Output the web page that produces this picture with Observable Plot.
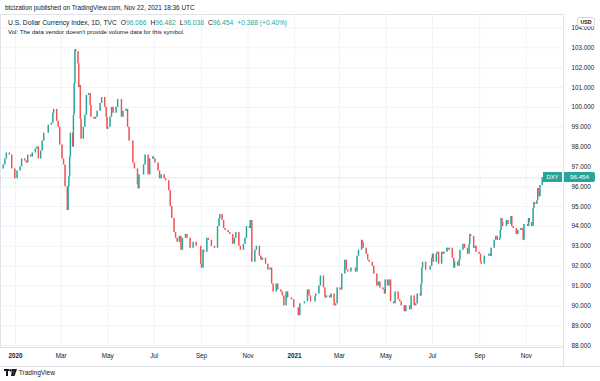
<!DOCTYPE html>
<html><head><meta charset="utf-8">
<script src="https://cdn.jsdelivr.net/npm/d3@7"></script>
<script src="https://cdn.jsdelivr.net/npm/@observablehq/plot@0.6"></script>
<style>
body{margin:0;width:600px;height:381px;background:#fff;position:relative;overflow:hidden;font-family:"Liberation Sans",Arial,sans-serif;color:#131722}
.abs{position:absolute;white-space:nowrap}
.g{color:#26a69a}
.k{margin-left:4px}
</style></head><body>
<script>
// ---- data (daily closes, every few sessions) ----
const dates2019 = ["2019-12-16","2019-12-18","2019-12-20","2019-12-24","2019-12-27","2019-12-31"];
const closes2019 = [97.1,97.4,97.7,97.6,96.9,96.4];

const dates2020 = [
"2020-01-03","2020-01-07","2020-01-09","2020-01-13","2020-01-15","2020-01-17","2020-01-21","2020-01-23","2020-01-27","2020-01-29","2020-01-31",
"2020-02-03","2020-02-05","2020-02-07","2020-02-11","2020-02-13","2020-02-17","2020-02-19","2020-02-20","2020-02-24","2020-02-26","2020-02-28",
"2020-03-02","2020-03-04","2020-03-06","2020-03-09","2020-03-10","2020-03-11","2020-03-12","2020-03-13","2020-03-16","2020-03-17","2020-03-18","2020-03-19","2020-03-20","2020-03-23","2020-03-24","2020-03-25","2020-03-26","2020-03-27","2020-03-30","2020-03-31",
"2020-04-01","2020-04-03","2020-04-06","2020-04-08","2020-04-09","2020-04-13","2020-04-15","2020-04-17","2020-04-21","2020-04-23","2020-04-27","2020-04-29","2020-04-30",
"2020-05-01","2020-05-04","2020-05-06","2020-05-08","2020-05-12","2020-05-14","2020-05-15","2020-05-19","2020-05-21","2020-05-25","2020-05-27","2020-05-29",
"2020-06-01","2020-06-03","2020-06-05","2020-06-09","2020-06-10","2020-06-11","2020-06-15","2020-06-17","2020-06-19","2020-06-23","2020-06-25","2020-06-29","2020-06-30",
"2020-07-02","2020-07-06","2020-07-08","2020-07-10","2020-07-14","2020-07-16","2020-07-20","2020-07-22","2020-07-24","2020-07-27","2020-07-29","2020-07-31",
"2020-08-03","2020-08-05","2020-08-07","2020-08-11","2020-08-13","2020-08-17","2020-08-19","2020-08-21","2020-08-25","2020-08-27","2020-08-31",
"2020-09-01","2020-09-03","2020-09-04","2020-09-08","2020-09-10","2020-09-14","2020-09-16","2020-09-18","2020-09-22","2020-09-24","2020-09-25","2020-09-28","2020-09-30",
"2020-10-02","2020-10-06","2020-10-08","2020-10-12","2020-10-14","2020-10-16","2020-10-20","2020-10-22","2020-10-26","2020-10-28","2020-10-30",
"2020-11-03","2020-11-04","2020-11-06","2020-11-10","2020-11-12","2020-11-16","2020-11-18","2020-11-20","2020-11-24","2020-11-27","2020-11-30",
"2020-12-02","2020-12-04","2020-12-08","2020-12-10","2020-12-14","2020-12-16","2020-12-18","2020-12-21","2020-12-23","2020-12-28","2020-12-31"];
const closes2020 = [
96.8,97.0,97.4,97.3,97.2,97.6,97.5,97.7,97.9,98.0,97.4,
97.8,98.3,98.7,98.7,99.1,99.2,99.7,99.9,99.3,99.0,98.1,
97.4,97.1,96.0,94.8,96.0,96.5,97.5,98.7,98.0,99.6,101.2,102.9,102.8,102.2,101.0,101.1,99.4,98.4,99.0,99.0,
99.6,100.6,100.7,100.1,99.5,99.4,99.5,99.8,100.2,100.5,100.0,99.5,98.9,
99.0,99.5,100.0,99.7,100.0,100.4,100.4,99.5,99.8,99.9,99.0,98.3,
98.3,97.2,96.9,96.1,95.9,96.6,96.6,97.1,97.6,96.6,97.4,97.5,97.4,
97.2,96.8,96.4,96.6,96.4,96.3,95.8,95.0,94.4,93.7,93.4,93.2,
93.5,92.8,93.4,93.6,93.4,92.9,92.9,93.2,93.0,93.0,92.1,
91.9,92.8,92.7,93.4,93.3,93.0,93.0,92.9,94.0,94.4,94.6,94.3,93.9,
93.8,93.7,93.6,93.1,93.4,93.7,93.0,92.8,93.1,93.4,94.0,
93.9,94.3,92.2,92.8,93.0,92.5,92.3,92.4,92.1,91.8,91.9,
91.1,90.7,91.1,90.8,90.7,90.5,90.0,90.7,90.4,90.3,89.9];

const dates2021 = [
"2021-01-04","2021-01-06","2021-01-08","2021-01-12","2021-01-14","2021-01-18","2021-01-20","2021-01-22","2021-01-26","2021-01-28","2021-01-29",
"2021-02-02","2021-02-04","2021-02-08","2021-02-10","2021-02-12","2021-02-16","2021-02-18","2021-02-22","2021-02-24","2021-02-26",
"2021-03-02","2021-03-04","2021-03-08","2021-03-10","2021-03-12","2021-03-16","2021-03-18","2021-03-22","2021-03-24","2021-03-26","2021-03-30","2021-03-31",
"2021-04-01","2021-04-05","2021-04-07","2021-04-09","2021-04-13","2021-04-15","2021-04-19","2021-04-21","2021-04-23","2021-04-27","2021-04-29","2021-04-30",
"2021-05-03","2021-05-05","2021-05-07","2021-05-11","2021-05-13","2021-05-17","2021-05-19","2021-05-21","2021-05-25","2021-05-27","2021-05-28",
"2021-06-01","2021-06-03","2021-06-07","2021-06-09","2021-06-11","2021-06-15","2021-06-16","2021-06-17","2021-06-18","2021-06-22","2021-06-24","2021-06-28","2021-06-30",
"2021-07-01","2021-07-02","2021-07-06","2021-07-07","2021-07-09","2021-07-13","2021-07-15","2021-07-16","2021-07-20","2021-07-21","2021-07-23","2021-07-27","2021-07-29","2021-07-30",
"2021-08-03","2021-08-05","2021-08-06","2021-08-10","2021-08-12","2021-08-16","2021-08-18","2021-08-19","2021-08-20","2021-08-24","2021-08-26","2021-08-27","2021-08-31",
"2021-09-02","2021-09-03","2021-09-07","2021-09-09","2021-09-13","2021-09-15","2021-09-16","2021-09-20","2021-09-22","2021-09-24","2021-09-27","2021-09-28","2021-09-29","2021-09-30",
"2021-10-01","2021-10-05","2021-10-06","2021-10-08","2021-10-12","2021-10-13","2021-10-15","2021-10-19","2021-10-21","2021-10-25","2021-10-27","2021-10-28","2021-10-29",
"2021-11-01","2021-11-03","2021-11-04","2021-11-05","2021-11-08","2021-11-09","2021-11-10","2021-11-11","2021-11-12","2021-11-15","2021-11-16","2021-11-17","2021-11-18","2021-11-19","2021-11-22"];
const closes2021 = [
89.9,89.5,90.1,90.1,90.2,90.8,90.5,90.2,90.2,90.5,90.6,
91.0,91.5,90.9,90.4,90.5,90.4,90.6,90.0,90.1,90.9,
90.8,91.6,92.3,91.8,91.7,91.9,91.9,91.7,92.5,92.8,93.3,93.2,
92.9,92.6,92.3,92.2,92.0,91.6,91.0,91.2,90.9,90.8,90.6,91.3,
91.0,91.3,90.2,90.1,90.7,90.3,90.2,90.0,89.7,90.0,90.0,
89.8,90.5,90.0,90.1,90.6,90.5,91.1,91.9,92.2,91.8,91.8,92.0,92.4,
92.6,92.2,92.6,92.7,92.1,92.7,92.6,92.7,92.9,92.8,92.9,92.4,91.9,92.2,
92.0,92.3,92.8,93.1,92.9,92.6,93.1,93.6,93.5,92.9,93.0,92.7,92.6,
92.2,92.1,92.5,92.5,92.6,92.5,92.9,93.3,93.5,93.3,93.4,93.8,94.4,94.2,
94.0,94.0,94.3,94.1,94.5,94.0,93.9,93.6,93.8,93.9,93.8,93.3,94.1,
94.1,94.0,94.4,94.2,94.0,94.0,94.9,95.2,95.1,95.3,95.9,95.8,95.5,96.066,96.454];

const firstOpen = 96.9;
const lastBar = {open: 96.066, high: 96.482, low: 96.038, close: 96.454, change: 0.388, pct: 0.40};

const yTicks = [88,89,90,91,92,93,94,95,96,97,98,99,100,101,102,103,104];
const xTickDates = ["2020-01-01","2020-03-01","2020-05-01","2020-07-01","2020-09-01","2020-11-01","2021-01-01","2021-03-01","2021-05-01","2021-07-01","2021-09-01","2021-11-01"];
const xTickLabels = ["2020","Mar","May","Jul","Sep","Nov","2021","Mar","May","Jul","Sep","Nov"];

// ---- build candles ----
const allDates = dates2019.concat(dates2020, dates2021);
const allCloses = closes2019.concat(closes2020, closes2021);
const candles = allDates.map((d, i) => {
  const open = i === 0 ? firstOpen : allCloses[i - 1];
  const close = allCloses[i];
  return {date: new Date(d), open, close, low: Math.min(open, close), high: Math.max(open, close)};
});
const last = candles[candles.length - 1];
last.open = lastBar.open; last.high = lastBar.high; last.low = lastBar.low;

const UP = "#26a69a", DOWN = "#ef5350";
const tickDates = xTickDates.map(d => new Date(d));
const labelOf = new Map(tickDates.map((d, i) => [+d, xTickLabels[i]]));
const yearTicks = tickDates.filter(d => d.getUTCMonth() === 0);
const monthTicks = tickDates.filter(d => d.getUTCMonth() !== 0);

const chart = Plot.plot({
  width: 600, height: 352,
  marginLeft: 0, marginRight: 37, marginTop: 0, marginBottom: 19,
  style: {fontFamily: '"Liberation Sans", Arial, sans-serif', fontSize: "6.3px", color: "#131722", background: "transparent", overflow: "visible"},
  x: {type: "utc", domain: [new Date("2019-12-12T08:00Z"), new Date("2021-12-19T21:00Z")]},
  y: {domain: [87.9, 104.68]},
  marks: [
    Plot.gridY({ticks: yTicks, stroke: "#f0f3fa", strokeOpacity: 1}),
    Plot.gridX({ticks: tickDates, stroke: "#f0f3fa", strokeOpacity: 1}),
    Plot.frame({stroke: "#e0e3eb"}),
    Plot.ruleY([lastBar.close], {stroke: UP, strokeOpacity: 0.5, strokeDasharray: "1,1.5", strokeWidth: 0.8}),
    Plot.ruleX(candles, {x: "date", y1: "low", y2: "high", stroke: d => d.close >= d.open ? UP : DOWN, strokeWidth: 0.8, strokeOpacity: 0.55}),
    Plot.ruleX(candles, {x: "date", y1: "open", y2: "close", stroke: d => d.close >= d.open ? UP : DOWN, strokeWidth: 1.4}),
    Plot.axisY({anchor: "right", ticks: yTicks, tickFormat: d => d.toFixed(3), tickSize: 0, tickPadding: 8, fill: "#131722"}),
    Plot.axisX({ticks: yearTicks, tickFormat: d => labelOf.get(+d), tickSize: 0, tickPadding: 6, fontWeight: "bold", fill: "#131722"}),
    Plot.axisX({ticks: monthTicks, tickFormat: d => labelOf.get(+d), tickSize: 0, tickPadding: 6, fill: "#131722"})
  ]
});

const wrap = document.createElement("div");
wrap.className = "abs";
wrap.style.left = "0px"; wrap.style.top = "14px";
wrap.appendChild(chart);
document.body.appendChild(wrap);

const ys = chart.scale("y");
const priceY = 14 + ys.apply(lastBar.close);

function add(html, css) {
  const d = document.createElement("div");
  d.className = "abs";
  d.style.cssText += css;
  d.innerHTML = html;
  document.body.appendChild(d);
  return d;
}
// publish line
add("btcization published on TradingView.com, Nov 22, 2021 18:36 UTC", "left:5px;top:3.5px;font-size:6.4px;color:#131722;");
// legend
add('U.S. Dollar Currency Index, 1D, TVC<span class="k">O</span><span class="g">' + lastBar.open.toFixed(3) + '</span><span class="k">H</span><span class="g">' + lastBar.high.toFixed(3) +
    '</span><span class="k">L</span><span class="g">' + lastBar.low.toFixed(3) + '</span><span class="k">C</span><span class="g">' + lastBar.close.toFixed(3) +
    '</span><span class="g k">+' + lastBar.change.toFixed(3) + ' (+' + lastBar.pct.toFixed(2) + '%)</span>',
    "left:8px;top:18.5px;font-size:6.7px;color:#131722;");
add("Vol: The data vendor doesn't provide volume data for this symbol.", "left:8px;top:27.5px;font-size:6.1px;color:#131722;");
// USD badge
add("USD", "left:577px;top:17px;width:16px;height:8px;line-height:8px;text-align:center;font-size:5.3px;font-weight:bold;background:#fff;border:1px solid #d1d4dc;border-radius:3px;");
// last price labels
add("DXY", `left:543px;top:${priceY - 5}px;width:19px;height:10px;line-height:10px;text-align:center;font-size:5.8px;color:#fff;background:${UP};`);
add(lastBar.close.toFixed(3), `left:564px;top:${priceY - 5}px;width:31px;height:10px;line-height:10px;text-align:center;font-size:6.2px;color:#fff;background:${UP};border-radius:0 2px 2px 0;`);
// time-axis bottom border and price-axis separator
add("", "left:0px;top:366px;width:600px;height:0;border-top:1px solid #e0e3eb;");
add("", "left:563px;top:347px;width:0;height:19px;border-left:1px solid #e0e3eb;");
// footer logo
add('<svg width="13" height="7" viewBox="0 0 13 7" style="vertical-align:-1px"><rect x="0" y="0" width="5" height="2" fill="#131722"/><rect x="2" y="0" width="2" height="7" fill="#131722"/><circle cx="6.5" cy="1.2" r="1.2" fill="#131722"/><polygon points="8,0 10.2,0 8.8,7 7,7" fill="#131722"/><polygon points="10.2,0 13,0 10.5,7 8.8,7" fill="#131722"/></svg> TradingView',
    "left:4px;top:369px;font-size:6.6px;color:#131722;");
</script>
</body></html>
